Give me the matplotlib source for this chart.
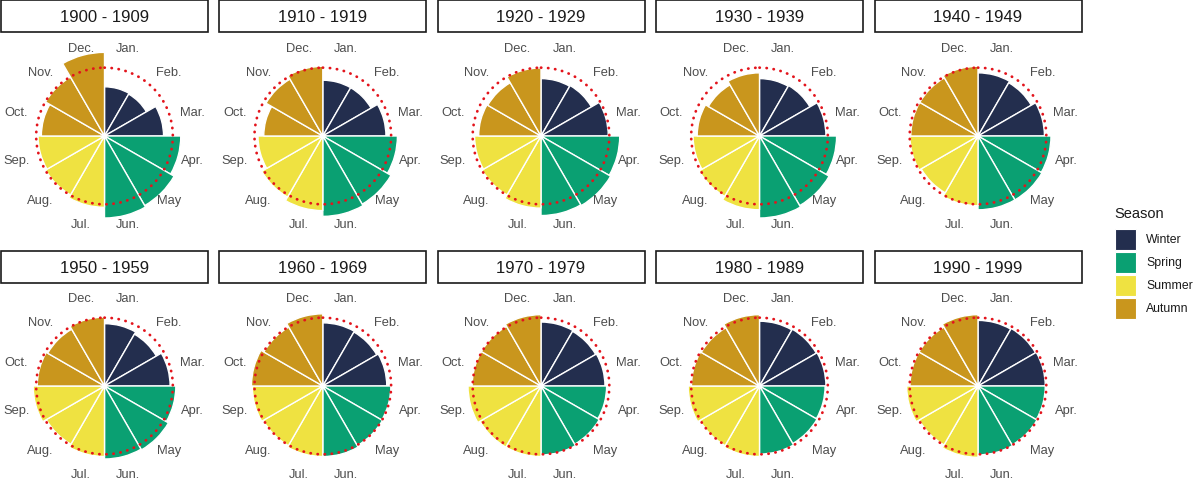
import numpy as np
import matplotlib
matplotlib.use("Agg")
import matplotlib.pyplot as plt
from matplotlib.patches import Rectangle

plt.rcParams['font.family'] = ['Liberation Sans', 'DejaVu Sans']

# ---------------- data ----------------
months = ["Jan.", "Feb.", "Mar.", "Apr.", "May", "Jun.",
          "Jul.", "Aug.", "Sep.", "Oct.", "Nov.", "Dec."]
month_season = ["Winter", "Winter", "Winter", "Spring", "Spring", "Spring",
                "Summer", "Summer", "Summer", "Autumn", "Autumn", "Autumn"]
seasons = ["Winter", "Spring", "Summer", "Autumn"]
season_colors = {"Winter": "#232E4E", "Spring": "#0AA072",
                 "Summer": "#EFE241", "Autumn": "#C9961D"}

decades = ["1900 - 1909", "1910 - 1919", "1920 - 1929", "1930 - 1939", "1940 - 1949",
           "1950 - 1959", "1960 - 1969", "1970 - 1979", "1980 - 1989", "1990 - 1999"]

share_1900s = [6.0, 5.9, 7.2, 9.3, 9.8, 10.0, 8.7, 8.3, 8.1, 7.7, 8.3, 10.2]
share_1910s = [6.8, 6.8, 7.7, 9.1, 9.6, 9.8, 9.1, 8.6, 7.9, 7.2, 8.0, 8.5]
share_1920s = [7.0, 7.1, 8.2, 9.6, 9.8, 9.7, 8.8, 8.3, 8.1, 7.6, 7.5, 8.3]
share_1930s = [7.0, 7.1, 8.1, 9.4, 9.8, 10.0, 9.0, 8.5, 8.1, 7.6, 7.2, 7.7]
share_1940s = [7.7, 7.5, 8.1, 8.9, 9.0, 9.0, 8.5, 8.0, 8.3, 8.2, 8.2, 8.5]
share_1950s = [7.6, 7.3, 8.0, 8.7, 9.0, 8.9, 8.6, 8.2, 8.7, 8.2, 8.0, 8.4]
share_1960s = [7.7, 7.6, 7.8, 8.3, 8.4, 8.6, 8.6, 8.4, 8.6, 8.7, 8.3, 8.8]
share_1970s = [7.8, 7.7, 7.8, 8.0, 8.2, 8.4, 8.6, 8.6, 8.9, 8.4, 8.4, 8.7]
share_1980s = [7.9, 8.0, 8.1, 8.0, 8.1, 8.3, 8.6, 8.4, 8.7, 8.3, 8.2, 8.7]
share_1990s = [8.0, 8.1, 8.2, 8.2, 8.3, 8.4, 8.7, 8.3, 8.7, 8.3, 8.3, 8.7]

reference_level = 100 / 12   # uniform monthly share (dotted circle)

series = [share_1900s, share_1910s, share_1920s, share_1930s, share_1940s,
          share_1950s, share_1960s, share_1970s, share_1980s, share_1990s]

# ---------------- layout ----------------
W, H = 1200, 485
fig = plt.figure(figsize=(W / 100, H / 100), dpi=100)

# overlay axes in pixel coordinates for strips and legend
ov = fig.add_axes([0, 0, 1, 1])
ov.set_xlim(0, W)
ov.set_ylim(H, 0)
ov.set_axis_off()

col_centers = [104.5, 322.8, 541.0, 759.5, 978.0]
row_centers = [137.0, 387.0]
strip_tops = [1.0, 252.0]
strip_h = 32.0
strip_w = 207.0

px_per_unit = 8.2
rmax = 11.0
R = rmax * px_per_unit  # axes radius in px

n = len(months)
theta = np.arange(n) * 2 * np.pi / n + np.pi / n
width = 2 * np.pi / n
circle_t = np.linspace(0, 2 * np.pi, 500)

for k, (dec, vals) in enumerate(zip(decades, series)):
    r, c = divmod(k, 5)
    cx, cy = col_centers[c], row_centers[r]
    ax = fig.add_axes([(cx - R) / W, 1 - (cy + R) / H, 2 * R / W, 2 * R / H],
                      projection='polar')
    ax.set_theta_zero_location('N')
    ax.set_theta_direction(-1)
    ax.set_ylim(0, rmax)
    ax.set_axis_off()
    cols = [season_colors[s] for s in month_season]
    ax.bar(theta, vals, width=width, color=cols, edgecolor='white',
           linewidth=1.0, align='center', zorder=2)
    ax.plot(circle_t, np.full_like(circle_t, reference_level), color='#E3141C',
            linewidth=2.0, linestyle=(0, (0.1, 2.45)), dash_capstyle='round',
            zorder=3)
    for t, m in zip(theta, months):
        ax.text(t, 11.1, m, ha='center', va='center', fontsize=9.3,
                color='#4D4D4D', clip_on=False)

    # strip
    sx0 = cx - strip_w / 2
    sy0 = strip_tops[r]
    ov.add_patch(Rectangle((sx0, sy0), strip_w, strip_h, facecolor='white',
                           edgecolor='#1A1A1A', linewidth=1.2))
    ov.text(cx, sy0 + strip_h / 2 + 0.5, dec, ha='center', va='center',
            fontsize=12, color='#1A1A1A')

# legend
ov.text(1114, 214, "Season", ha='left', va='center', fontsize=10.5,
        color='#1A1A1A')
key_centers = [240, 263, 286, 309]
for s, yc in zip(seasons, key_centers):
    ov.add_patch(Rectangle((1115, yc - 10.5), 21, 21,
                           facecolor=season_colors[s], edgecolor='white',
                           linewidth=0.8))
    ov.text(1146, yc, s, ha='left', va='center', fontsize=8.8, color='#1A1A1A')

fig.savefig("out.png", dpi=100)
